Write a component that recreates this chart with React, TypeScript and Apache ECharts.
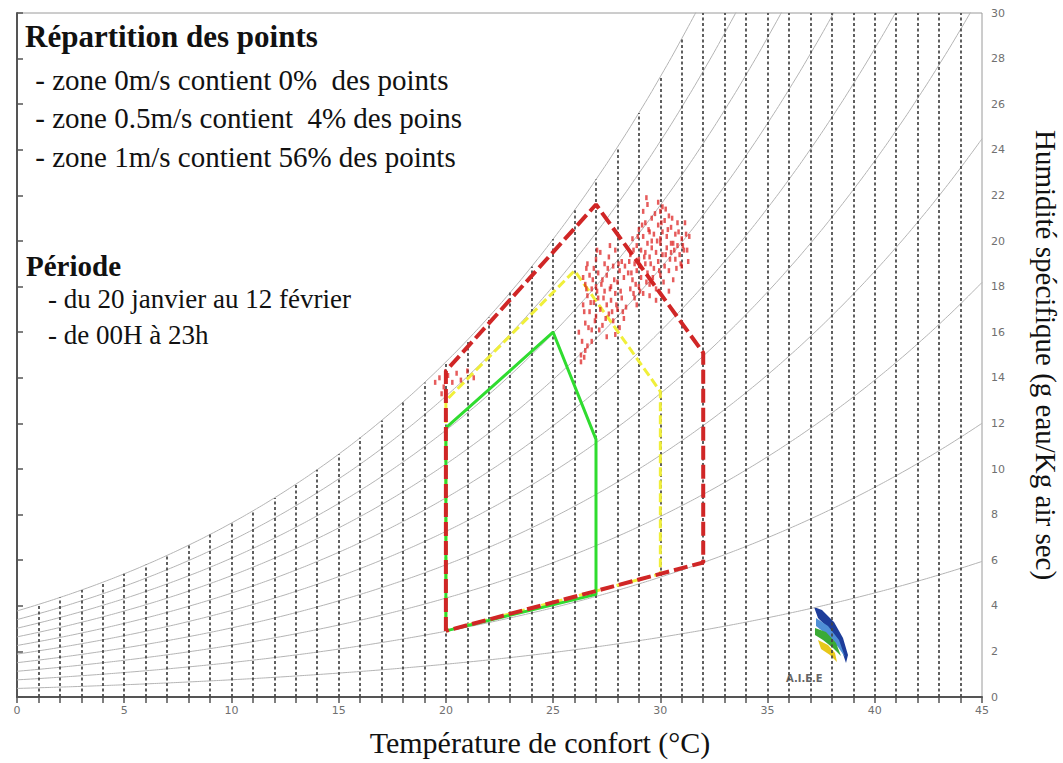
import React, { useEffect, useRef } from "react";
import * as echarts from "echarts";

// Dry-bulb temperatures (°C) of the chart grid
const TEMPS = [
  0, 1, 2, 3, 4, 5, 6, 7, 8, 9, 10, 11, 12, 13, 14, 15, 16, 17, 18, 19, 20, 21, 22,
  23, 24, 25, 26, 27, 28, 29, 30, 31, 32, 33, 34, 35, 36, 37, 38, 39, 40, 41, 42, 43, 44, 45,
];
// Saturation vapour pressure (kPa) at each temperature above
const SAT_PRESSURE = [
  0.6112, 0.6571, 0.706, 0.7581, 0.8135, 0.8725, 0.9353, 1.002, 1.0729, 1.1481, 1.228,
  1.3128, 1.4026, 1.4979, 1.5987, 1.7055, 1.8185, 1.938, 2.0643, 2.1978, 2.3388, 2.4877,
  2.6448, 2.8104, 2.9851, 3.1692, 3.3631, 3.5673, 3.7822, 4.0083, 4.246, 4.4959, 4.7585,
  5.0343, 5.3239, 5.6278, 5.9466, 6.281, 6.6315, 6.9987, 7.3835, 7.7863, 8.208, 8.6492,
  9.1107, 9.5932,
];
const ATM_PRESSURE = 101.325;
const RH_LEVELS = [10, 20, 30, 40, 50, 60, 70, 80, 90, 100];

const X_TICKS_LABELLED = [0, 5, 10, 15, 20, 25, 30, 35, 40, 45];

// Comfort zones (temperature °C, specific humidity g/kg)
const ZONE_1MS = [
  [20, 2.9], [20, 14.3], [27, 21.6], [32, 15.1], [32, 5.9], [20, 2.9],
];
const ZONE_05MS = [
  [20, 2.9], [20, 13.0], [26, 18.7], [30, 13.4], [30, 5.4], [20, 2.9],
];
const ZONE_0MS = [
  [20, 2.9], [20, 11.8], [25, 16.0], [27, 11.3], [27, 4.5], [20, 2.9],
];

// Measured points (temperature °C, specific humidity g/kg)
const POINTS = [
  [19.5, 13.8], [19.7, 14.0], [19.9, 13.6], [20.1, 14.1], [20.3, 13.8], [20.5, 14.2],
  [20.7, 13.9], [21.0, 14.3], [21.3, 14.0], [19.8, 13.3],
  [26.4, 17.2], [26.5, 16.4], [26.5, 18.1], [26.6, 17.6], [26.6, 15.4], [26.7, 16.9],
  [26.7, 18.5], [26.8, 17.9], [26.8, 16.1], [26.9, 18.8], [26.9, 17.3], [27.0, 19.2],
  [27.0, 18.0], [27.0, 16.7], [27.1, 17.5], [27.1, 18.6], [27.2, 19.5], [27.2, 17.0],
  [27.3, 18.3], [27.3, 16.3], [27.4, 19.0], [27.4, 17.8], [27.5, 18.5], [27.5, 17.2],
  [27.6, 19.3], [27.6, 16.8], [27.7, 18.0], [27.7, 17.4], [27.8, 18.9], [27.8, 16.5],
  [27.9, 17.7], [27.9, 19.6], [28.0, 18.2], [28.0, 17.0], [28.1, 18.7], [28.1, 16.2],
  [28.2, 17.5], [28.2, 19.1], [28.3, 18.4], [28.4, 17.1], [26.3, 15.0], [26.2, 16.0],
  [26.4, 18.4], [26.6, 19.0], [27.9, 15.9], [28.3, 16.6], [26.8, 15.6], [27.5, 15.8],
  [26.3, 14.7], [26.5, 15.2],
  [26.45, 16.9], [26.55, 17.9], [26.65, 16.2], [26.75, 17.3], [26.85, 18.3], [26.95, 16.5],
  [27.05, 17.8], [27.15, 16.1], [27.25, 18.1], [27.35, 17.5], [27.45, 16.6], [27.55, 18.8],
  [27.65, 17.9], [27.75, 16.9], [27.85, 18.3], [27.95, 17.2], [28.05, 19.0], [28.15, 17.8],
  [28.25, 16.9], [28.35, 18.9], [26.55, 18.8], [27.05, 19.6], [27.65, 19.8], [26.35, 15.6],
  [26.45, 14.9],
  [28.5, 18.6], [28.6, 19.4], [28.6, 17.9], [28.7, 20.1], [28.7, 18.3], [28.8, 19.0],
  [28.8, 17.5], [28.9, 19.8], [28.9, 18.7], [29.0, 20.5], [29.0, 19.2], [29.0, 18.0],
  [29.1, 19.6], [29.1, 18.4], [29.2, 20.2], [29.2, 17.7], [29.3, 19.0], [29.3, 20.8],
  [29.4, 18.6], [29.4, 19.9], [29.5, 20.4], [29.5, 18.1], [29.5, 19.3], [29.6, 21.0],
  [29.6, 19.7], [29.7, 18.8], [29.7, 20.3], [29.8, 19.5], [29.8, 17.9], [29.9, 20.7],
  [29.9, 19.1], [30.0, 21.3], [30.0, 19.9], [30.0, 18.5], [30.1, 20.4], [30.1, 19.4],
  [30.2, 20.9], [30.2, 18.9], [30.3, 19.7], [30.3, 20.2], [30.4, 21.1], [30.4, 18.7],
  [30.5, 19.5], [30.5, 20.6], [30.6, 19.9], [30.6, 18.3], [30.7, 20.3], [30.7, 19.2],
  [30.8, 19.8], [30.8, 20.8], [30.9, 19.4], [31.0, 20.1], [31.0, 18.9], [31.1, 19.6],
  [31.2, 20.3], [31.3, 19.1], [29.2, 21.3], [29.4, 21.6], [30.1, 21.5], [29.8, 17.4],
  [30.4, 17.8], [28.9, 17.2], [29.6, 20.0], [30.0, 20.1], [29.3, 19.5], [30.5, 19.9],
  [28.55, 19.1], [28.65, 18.6], [28.75, 19.6], [28.85, 18.1], [28.95, 20.2], [29.05, 18.9],
  [29.15, 20.7], [29.25, 19.3], [29.35, 18.2], [29.45, 20.5], [29.55, 19.0], [29.65, 18.4],
  [29.75, 21.2], [29.85, 20.0], [29.95, 18.7], [30.05, 20.8], [30.15, 18.2], [30.25, 19.4],
  [30.35, 20.5], [30.45, 19.2], [30.55, 21.0], [30.65, 19.6], [30.75, 18.8], [30.85, 20.4],
  [30.95, 19.0], [31.05, 19.8], [31.15, 20.8], [31.25, 19.6], [31.35, 20.2], [29.35, 21.9],
  [29.9, 21.7], [30.25, 21.4], [29.05, 17.8], [28.75, 17.7], [29.5, 17.6],
];

const TEXT_BLOCK = [
  "Répartition des points",
  " - zone 0m/s contient 0%  des points",
  " - zone 0.5m/s contient  4% des poins",
  " - zone 1m/s contient 56% des points",
  "Période",
  "- du 20 janvier au 12 février",
  "- de 00H à 23h",
];

const X_TITLE = "Température de confort (°C)";
const Y_TITLE = "Humidité spécifique (g eau/Kg air sec)";

function humidity(rh: number, ps: number) {
  const pv = (rh / 100) * ps;
  return (622 * pv) / (ATM_PRESSURE - pv);
}

export default function App() {
  const ref = useRef<HTMLDivElement>(null);

  useEffect(() => {
    if (!ref.current) return;
    const chart = echarts.init(ref.current, undefined, { renderer: "svg" });

    const curves = RH_LEVELS.map((rh) => ({
      type: "line",
      name: `HR ${rh}%`,
      data: TEMPS.map((t, i) => [t, humidity(rh, SAT_PRESSURE[i])]),
      symbol: "none",
      smooth: true,
      clip: true,
      silent: true,
      lineStyle: { color: "#b4b4b4", width: 1 },
      z: 1,
    }));

    const verticals = {
      type: "lines",
      coordinateSystem: "cartesian2d",
      silent: true,
      data: TEMPS.filter((t) => t > 0 && t < 45).map((t) => ({
        coords: [
          [t, 0],
          [t, Math.min(humidity(100, SAT_PRESSURE[TEMPS.indexOf(t)]), 30)],
        ],
      })),
      lineStyle: { color: "#444", width: 1.7, type: [3, 2.5], opacity: 1 },
      z: 2,
    };

    const serif = '"Liberation Serif", "Times New Roman", serif';
    const txt = (text: string, x: number, y: number, font: string) => ({
      type: "text",
      x,
      y,
      style: { text, font, fill: "#111", textVerticalAlign: "middle", verticalAlign: "middle" },
    });

    const option: any = {
      animation: false,
      backgroundColor: "#ffffff",
      grid: {
        left: 17,
        right: 81,
        top: 13,
        bottom: 66,
        show: true,
        borderColor: "#9a9a9a",
        borderWidth: 1,
      },
      xAxis: {
        type: "value",
        min: 0,
        max: 45,
        interval: 1,
        axisLine: { show: true, lineStyle: { color: "#555", width: 2 } },
        axisTick: { show: true, length: 6, lineStyle: { color: "#555", width: 1.5 } },
        axisLabel: {
          color: "#707070",
          fontSize: 11,
          fontFamily: "DejaVu Sans",
          margin: 8,
          formatter: (v: number) => (X_TICKS_LABELLED.includes(v) ? String(v) : ""),
        },
        splitLine: { show: false },
      },
      yAxis: {
        type: "value",
        position: "right",
        min: 0,
        max: 30,
        interval: 2,
        axisLine: { show: true, lineStyle: { color: "#555", width: 2 } },
        axisTick: { show: true, length: 6, lineStyle: { color: "#555", width: 1.5 } },
        axisLabel: { color: "#707070", fontSize: 11, fontFamily: "DejaVu Sans", margin: 9 },
        splitLine: { show: false },
      },
      series: [
        ...curves,
        verticals,
        {
          type: "line",
          name: "zone 0.5m/s",
          data: ZONE_05MS,
          symbol: "none",
          lineStyle: { color: "#f0ef3a", width: 3, type: [9, 4] },
          z: 4,
        },
        {
          type: "line",
          name: "zone 0m/s",
          data: ZONE_0MS,
          symbol: "none",
          lineStyle: { color: "#2fdc2f", width: 3 },
          z: 5,
        },
        {
          type: "line",
          name: "zone 1m/s",
          data: ZONE_1MS,
          symbol: "none",
          lineStyle: { color: "#d02626", width: 4, type: [14, 5] },
          z: 6,
        },
        {
          type: "scatter",
          name: "points",
          data: POINTS,
          symbol: "rect",
          symbolSize: [2.5, 5],
          itemStyle: { color: "rgba(220,24,24,0.88)" },
          z: 7,
        },
      ],
      graphic: [
        txt(TEXT_BLOCK[0], 25, 36, `bold 31px ${serif}`),
        txt(TEXT_BLOCK[1], 28, 80, `29px ${serif}`),
        txt(TEXT_BLOCK[2], 28, 118, `29px ${serif}`),
        txt(TEXT_BLOCK[3], 28, 157, `29px ${serif}`),
        txt(TEXT_BLOCK[4], 26, 266, `bold 29px ${serif}`),
        txt(TEXT_BLOCK[5], 48, 299, `27px ${serif}`),
        txt(TEXT_BLOCK[6], 48, 335, `27px ${serif}`),
        {
          type: "text",
          x: 540,
          y: 742,
          style: { text: X_TITLE, font: `30px ${serif}`, fill: "#111", textAlign: "center", align: "center", textVerticalAlign: "middle", verticalAlign: "middle" },
        },
        {
          type: "text",
          x: 1046,
          y: 355,
          rotation: -Math.PI / 2,
          style: { text: Y_TITLE, font: `29px ${serif}`, fill: "#111", textAlign: "center", align: "center", textVerticalAlign: "middle", verticalAlign: "middle" },
        },
        // logo
        {
          type: "group",
          children: [
            { type: "polygon", shape: { points: [[814, 607], [822, 610], [834, 622], [843, 638], [848, 655], [846, 663], [840, 645], [830, 630], [818, 618]] }, style: { fill: "#1d3d9a" } },
            { type: "polygon", shape: { points: [[816, 618], [828, 626], [839, 640], [845, 657], [838, 647], [826, 634], [816, 626]] }, style: { fill: "#4f8fd6" } },
            { type: "polygon", shape: { points: [[815, 628], [826, 632], [836, 643], [841, 656], [833, 648], [823, 640], [815, 635]] }, style: { fill: "#3aaa35" } },
            { type: "polygon", shape: { points: [[818, 640], [828, 645], [835, 653], [837, 662], [830, 655], [821, 649]] }, style: { fill: "#e8c81a" } },
            { type: "text", x: 786, y: 678, style: { text: "A.I.E.E", font: 'bold 10px "DejaVu Sans"', fill: "#666", textVerticalAlign: "middle", verticalAlign: "middle" } },
          ],
        },
      ],
    };

    chart.setOption(option);
    return () => chart.dispose();
  }, []);

  return (
    <div
      ref={ref}
      style={{ position: "absolute", left: 0, top: 0, width: 1063, height: 763, background: "#fff" }}
    />
  );
}
